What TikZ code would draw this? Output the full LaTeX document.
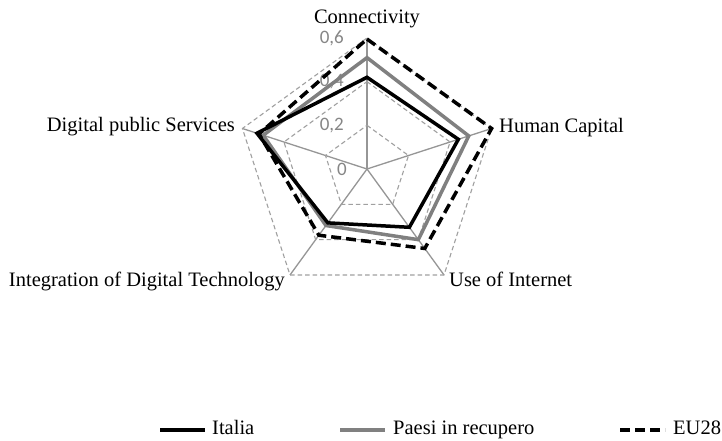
\documentclass[tikz,border=0pt]{standalone}
\usepackage{fontspec}
\setmainfont{Liberation Serif}
\newfontfamily\ticksfont{Carlito}
\usetikzlibrary{calc}
\definecolor{gridgray}{RGB}{160,160,160}
\definecolor{spokegray}{RGB}{150,150,150}
\definecolor{seriesgray}{RGB}{128,128,128}
\definecolor{ticklabel}{RGB}{134,134,134}
\tikzset{
  gridline/.style={gridgray, line width=1.1pt, dash pattern=on 4.5pt off 3pt},
  spoke/.style={spokegray, line width=1.3pt},
  italia/.style={black, line width=3.5pt, line join=miter},
  paesi/.style={seriesgray, line width=3.5pt, line join=miter},
  eu/.style={black, line width=3.5pt, line join=miter, dash pattern=on 10pt off 5pt},
  axislabel/.style={font=\fontsize{20.5}{23}\selectfont, inner sep=0pt},
  ticklbl/.style={font=\ticksfont\fontsize{19}{22}\selectfont, text=ticklabel, inner sep=0pt, anchor=east},
}
\def\vmax{0.6}
\begin{document}
\begin{tikzpicture}[x=1pt, y=1pt]
  \useasboundingbox (0,0) rectangle (722,441);
  \fill[white] (0,0) rectangle (722,441);

  % centre and the five axis ends (value 0.6)
  \coordinate (C) at (367,272);
  \foreach \ang [count=\i] in {90,18,-54,-126,162}
    \coordinate (ax\i) at ($(C)+(\ang:131)$);

  % spokes
  \foreach \i in {1,...,5}
    \draw[spoke] (C) -- (ax\i);

  % gridline pentagons at 0.2, 0.4, 0.6
  \foreach \f in {0.3333,0.6667,1}
    \draw[gridline] ($(C)!\f!(ax1)$) -- ($(C)!\f!(ax2)$) -- ($(C)!\f!(ax3)$)
      -- ($(C)!\f!(ax4)$) -- ($(C)!\f!(ax5)$) -- cycle;

  % value labels on the vertical axis
  \node[ticklbl] (t0) at ($(C)+(-20,0)$) {0};
  \node[ticklbl] (t2) at ($(C)+(-23,43.7)$) {0,2};
  \node[ticklbl] (t4) at ($(C)+(-23,87.3)$) {0,4};
  \node[ticklbl] (t6) at ($(C)+(-23,131)$) {0,6};

  % series: Paesi in recupero
  \draw[paesi] ($(C)!{0.51/\vmax}!(ax1)$) -- ($(C)!{0.49/\vmax}!(ax2)$)
    -- ($(C)!{0.40/\vmax}!(ax3)$) -- ($(C)!{0.32/\vmax}!(ax4)$)
    -- ($(C)!{0.50/\vmax}!(ax5)$) -- cycle;
  % series: Italia
  \draw[italia] ($(C)!{0.42/\vmax}!(ax1)$) -- ($(C)!{0.44/\vmax}!(ax2)$)
    -- ($(C)!{0.33/\vmax}!(ax3)$) -- ($(C)!{0.305/\vmax}!(ax4)$)
    -- ($(C)!{0.53/\vmax}!(ax5)$) -- cycle;
  % series: EU28
  \draw[eu] ($(C)!{0.595/\vmax}!(ax1)$) -- ($(C)!{0.60/\vmax}!(ax2)$)
    -- ($(C)!{0.45/\vmax}!(ax3)$) -- ($(C)!{0.375/\vmax}!(ax4)$)
    -- ($(C)!{0.52/\vmax}!(ax5)$) -- cycle;

  % axis category labels
  \node[axislabel, anchor=base] (l1) at (367,417) {Connectivity};
  \node[axislabel, anchor=base west] (l2) at (499,308) {Human Capital};
  \node[axislabel, anchor=base west] (l3) at (449,154) {Use of Internet};
  \node[axislabel, anchor=base east] (l4) at (285,154) {Integration of Digital Technology};
  \node[axislabel, anchor=base east] (l5) at (235,309) {Digital public Services};

  % legend
  \coordinate (k1a) at (160,11); \coordinate (k1b) at (205,11);
  \coordinate (k2a) at (340,11); \coordinate (k2b) at (385,11);
  \coordinate (k3a) at (620,11); \coordinate (k3b) at (665,11);
  \draw[italia] (k1a) -- (k1b);
  \draw[paesi] (k2a) -- (k2b);
  \draw[eu] (k3a) -- (k3b);
  \node[axislabel, anchor=base west] (g1) at (212,6) {Italia};
  \node[axislabel, anchor=base west] (g2) at (393,6) {Paesi in recupero};
  \node[axislabel, anchor=base west] (g3) at (673,6) {EU28};
\end{tikzpicture}
\end{document}
